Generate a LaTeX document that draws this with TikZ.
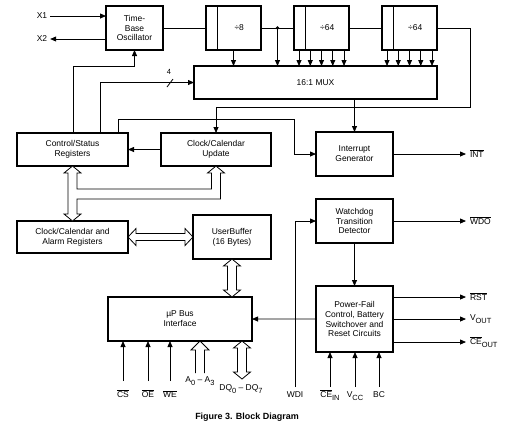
\documentclass[tikz,border=0pt]{standalone}
\usepackage{fontspec}
\setmainfont{Liberation Sans}
\usetikzlibrary{arrows.meta,calc}

\newcommand{\sbs}[1]{\raisebox{-0.5ex}{\fontsize{7.5}{8}\selectfont #1}}
\newcommand{\ovl}[1]{$\overline{\mbox{#1}}$}
% vertical double fat arrow: top tip, bottom tip
\newcommand{\vfat}[2]{\draw[fat] (#1) -- ++(8.5,7) -- ++(-4,0) -- ($(#2)+(4.5,-7)$) -- ++(4,0) -- (#2) -- ++(-8.5,-7) -- ++(4,0) -- ($(#1)+(-4.5,7)$) -- ++(-4,0) -- cycle;}
% horizontal double fat arrow: left tip, right tip
\newcommand{\hfat}[2]{\draw[fat] (#1) -- ++(8,-8.5) -- ++(0,5) -- ($(#2)+(-8,-3.5)$) -- ++(0,-5) -- (#2) -- ++(-8,8.5) -- ++(0,-5) -- ($(#1)+(8,3.5)$) -- ++(0,5) -- cycle;}

\begin{document}
\begin{tikzpicture}[x=1bp,
y=-1bp,
every node/.style={
rectangle,
align=center,
anchor=north west,
outer sep=0pt,
inner sep=1pt,
font=\fontsize{8.5}{10}\selectfont,
},
box/.style={
draw,
line width=1.1bp,
},
sig/.style={
line width=0.8bp,
},
arr/.style={
sig,
-{Triangle[length=6bp,width=5bp]},
},
fat/.style={
draw,
line width=0.8bp,
fill=white,
},
pin/.style={
anchor=center,
}]

\path[fill=white] (0,0) rectangle (514,424);

%Oscillator and dividers
\node[box,minimum width=57bp,minimum height=44bp] (osc) at (106,6) {Time-\\Base\\Oscillator};
\node[box,minimum width=55bp,minimum height=44bp] (div8) at (206,6) {\hspace*{11.5bp}÷8};
\node[box,minimum width=55bp,minimum height=44bp] (d64a) at (294,6) {\hspace*{11.5bp}÷64};
\node[box,minimum width=55bp,minimum height=44bp] (d64b) at (382,6) {\hspace*{11.5bp}÷64};
\foreach \d in {div8,d64a,d64b}
  \draw[line width=1.1bp] ([xshift=11.5bp]\d.north west) -- ([xshift=11.5bp]\d.south west);

%MUX
\node[box,minimum width=243bp,minimum height=33bp] (mux) at (194,66) {16:1 MUX};

%Registers
\node[box,minimum width=111bp,minimum height=33bp] (csr) at (17,133) {Control/Status\\Registers};
\node[box,minimum width=110bp,minimum height=33bp] (ccu) at (161,133) {Clock/Calendar\\Update};
\node[box,minimum width=111bp,minimum height=32bp] (alarm) at (17,221) {Clock/Calendar and\\Alarm Registers};
\node[box,minimum width=78bp,minimum height=44bp] (ubuf) at (193,215) {UserBuffer\\(16 Bytes)};
\node[box,minimum width=144bp,minimum height=44bp] (bus) at (108,297) {µP Bus\\Interface};

%Right column
\node[box,minimum width=77bp,minimum height=44bp] (intg) at (316,132) {Interrupt\\Generator};
\node[box,minimum width=77bp,minimum height=44bp] (wdt) at (316,199) {Watchdog\\Transition\\Detector};
\node[box,minimum width=77bp,minimum height=66bp] (pfc) at (316,286) {Power-Fail\\Control, Battery\\Switchover and\\Reset Circuits};

%Pin labels
\node[pin] (x1) at (42,16) {X1};
\node[pin] (x2) at (42,39) {X2};
\node[pin] (cs) at (123,394) {\ovl{CS}};
\node[pin] (oe) at (148,394) {\ovl{OE}};
\node[pin] (we) at (170,394) {\ovl{WE}};
\node[pin] (alab) at (200,381) {A\sbs{0} – A\sbs{3}};
\node[pin] (dqlab) at (241,389) {DQ\sbs{0} – DQ\sbs{7}};
\node[pin] (wdi) at (295,395) {WDI};
\node[pin] (cein) at (330,395) {\ovl{CE}\sbs{IN}};
\node[pin] (vcc) at (355,396) {V\sbs{CC}};
\node[pin] (bc) at (379,395) {BC};
\node[pin,font=\fontsize{9}{11}\selectfont\bfseries] (cap) at (247,417) {Figure 3. Block Diagram};

\coordinate (pinbase) at (0,381);
\coordinate (pinbase2) at (0,387);
\coordinate (tap) at ($(div8.east)!0.5!(d64a.west)$);
\coordinate (fbk) at (470,107);
\coordinate (csj) at (294,119);
\coordinate (slash) at (170,83);
\coordinate (a03) at (200,373);
\coordinate (dqb) at (242,379);

%Clock chain
\draw[arr] ([xshift=2bp]x1.east) -- (x1 -| osc.west);
\draw[arr] (x2 -| osc.west) -- ([xshift=2bp]x2.east);
\draw[sig] (osc.east) -- (div8.west);
\draw[sig] (div8.east) -- (d64a.west);
\draw[sig] (d64a.east) -- (d64b.west);
\fill (tap) circle (1.8bp);
\draw[arr] (tap) -- (tap |- mux.north);
\draw[arr] (div8.south) -- (div8.south |- mux.north);
\foreach \i in {0,...,4}{
  \draw[arr] ([xshift=5bp+11.25bp*\i]d64a.south west) -- ([xshift=5bp+11.25bp*\i]d64a.south west |- mux.north);
  \draw[arr] ([xshift=5bp+11.25bp*\i]d64b.south west) -- ([xshift=5bp+11.25bp*\i]d64b.south west |- mux.north);
}
\draw[arr] (d64b.east) -| (fbk) -- (fbk -| ccu.north) -- (ccu.north);
\draw[arr] (intg.north |- mux.south) -- (intg.north);

%Register control lines
\draw[arr] ([xshift=56bp]csr.north west) |- ([yshift=-16bp]osc.south) -- (osc.south);
\draw[arr] ([xshift=83bp]csr.north west) |- (mux.west);
\draw[sig] ($(slash)+(-3,4)$) -- ($(slash)+(3,-4)$);
\node[pin,font=\fontsize{7.5}{8}\selectfont] (n4) at (169,72) {4};
\draw[arr] ([xshift=-10bp]csr.north east) |- (csj) |- (intg.west);
\draw[arr] (ccu.west) -- (csr.east);

%Fat buses
\draw[fat] (csr.south) -- ++(8.5,7) -- ++(-4,0) -- ++(0,16) -| ($(ccu.south)+(-4.5,7)$) -- ++(-4,0) -- (ccu.south) -- ++(8.5,7) -- ++(-4,0) |- ($(alarm.north)+(4.5,-22)$) -- ($(alarm.north)+(4.5,-7)$) -- ++(4,0) -- (alarm.north) -- ++(-8.5,-7) -- ++(4,0) -- ($(csr.south)+(-4.5,7)$) -- ++(-4,0) -- cycle;
\hfat{alarm.east}{ubuf.west}
\vfat{ubuf.south}{ubuf.south |- bus.north}
\vfat{dqb |- bus.south}{dqb}
\draw[fat] ($(a03)+(4.5,0)$) -- ($(a03 |- bus.south)+(4.5,9)$) -- ++(4.5,0) -- (a03 |- bus.south) -- ++(-9,9) -- ++(4.5,0) -- ($(a03)+(-4.5,0)$);

%Bus interface pins
\foreach \p in {cs,oe,we}
  \draw[arr] (\p |- pinbase) -- (\p |- bus.south);

%Watchdog and power-fail
\draw[arr] (intg.east) -- ++(73,0) node[right=3bp] (int) {\ovl{INT}};
\draw[arr] (wdt.east) -- ++(73,0) node[right=3bp] (wdo) {\ovl{WDO}};
\draw[arr] (wdt.south) -- (pfc.north);
\draw[arr] (wdi |- pinbase2) |- (wdt.west);
\draw[arr] (pfc.west) -- (bus.east);
\draw[arr] ([yshift=-11bp]pfc.north east) -- ++(73,0) node[right=3bp] (rst) {\ovl{RST}};
\draw[arr] (pfc.east) -- ++(73,0) node[right=3bp] (vout) {V\sbs{OUT}};
\draw[arr] ([yshift=10bp]pfc.south east) -- ++(73,0) node[right=3bp] (ceout) {\ovl{CE}\sbs{OUT}};
\foreach \p in {cein,vcc,bc}
  \draw[arr] (\p |- pinbase2) -- (\p |- pfc.south);
\end{tikzpicture}
\end{document}
